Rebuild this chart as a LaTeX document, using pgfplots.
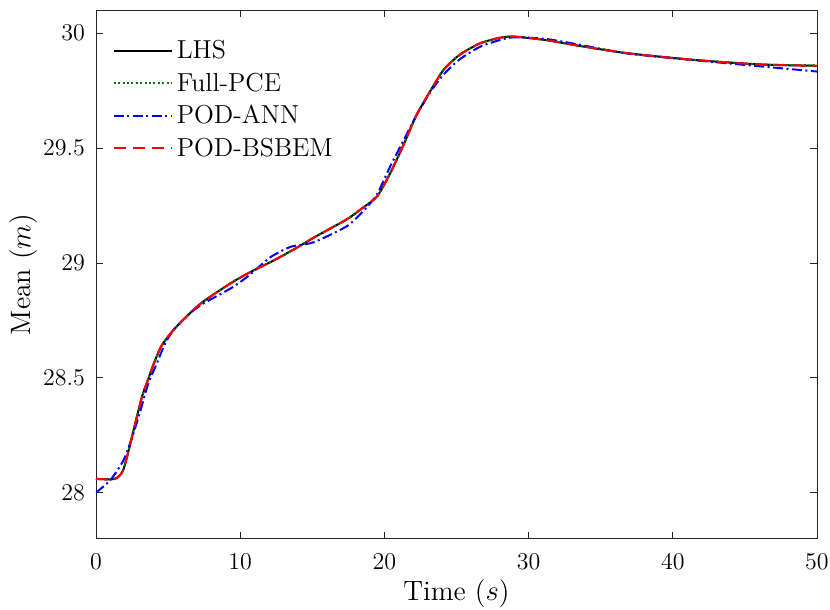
\documentclass[border=0pt]{standalone}
\usepackage{pgfplots}
\pgfplotsset{compat=1.18}
\definecolor{axgray}{rgb}{0.15,0.15,0.15}
\definecolor{pcegreen}{rgb}{0,0.5,0}
\begin{document}
\begin{tikzpicture}
\begin{axis}[
    scale only axis,
    width=360.5pt,
    height=264.2pt,
    xmin=0, xmax=50,
    ymin=27.8, ymax=30.1,
    xtick={0,10,...,50},
    ytick={28,28.5,29,29.5,30},
    tick align=inside,
    major tick length=3.5pt,
    axis line style={axgray, line width=0.4pt},
    tick style={axgray, line width=0.4pt},
    tick label style={font=\fontsize{13}{15}\selectfont},
    xticklabel style={yshift=-4pt},
    yticklabel style={xshift=-2pt},
    label style={font=\fontsize{14}{16}\selectfont},
    xlabel={Time ($s$)},
    ylabel={Mean ($m$)},
    xlabel style={yshift=1.5pt},
    ylabel style={yshift=-4pt},
    legend cell align=left,
    legend style={draw=none, fill=none, at={(0.02,0.985)}, anchor=north west,
        yshift=-8pt, font=\fontsize{13}{15}\selectfont, row sep=1.5pt, inner sep=1pt},
    legend image code/.code={\draw[#1] (0pt,0pt) -- (29pt,0pt);},
    every axis plot/.append style={smooth, tension=0.4, line width=1pt},
]
\addplot[black] coordinates {
(0,28.06) (1.3,28.06) (1.9,28.10) (2.6,28.27) (3.2,28.42) (3.6,28.49)
(4.0,28.56) (4.55,28.64) (5.4,28.71) (6.5,28.78) (7.4,28.83) (9.3,28.91)
(10.7,28.96) (12.3,29.01) (13.9,29.065) (15.1,29.11) (17.4,29.19) (18.5,29.24)
(19.5,29.29) (20.4,29.39) (21.3,29.51) (22.2,29.64) (23.2,29.75) (24.1,29.84)
(25.2,29.905) (26.6,29.955) (28.0,29.98) (29.0,29.985) (31.2,29.97) (33.5,29.945)
(36.8,29.913) (41.4,29.884) (46.0,29.864) (50,29.858)
};
\addlegendentry{LHS}
\addplot[pcegreen, dash pattern=on 1pt off 1.2pt] coordinates {
(0,28.06) (1.3,28.06) (1.9,28.10) (2.6,28.27) (3.2,28.42) (3.6,28.49)
(4.0,28.56) (4.55,28.64) (5.4,28.71) (6.5,28.78) (7.4,28.83) (9.3,28.91)
(10.7,28.96) (12.3,29.01) (13.9,29.065) (15.1,29.11) (17.4,29.19) (18.5,29.24)
(19.5,29.29) (20.4,29.39) (21.3,29.51) (22.2,29.64) (23.2,29.75) (24.1,29.84)
(25.2,29.905) (26.6,29.955) (28.0,29.98) (29.0,29.985) (31.2,29.97) (33.5,29.945)
(36.8,29.913) (41.4,29.884) (46.0,29.864) (50,29.860)
};
\addlegendentry{Full-PCE}
\addplot[blue, dash pattern=on 5pt off 1.75pt on 1pt off 1.75pt] coordinates {
(0,28.0) (1.0,28.055) (1.9,28.14) (2.5,28.24) (3.05,28.35) (3.6,28.47)
(4.2,28.56) (4.8,28.65) (5.4,28.71) (6.5,28.78) (7.5,28.825) (9.5,28.895)
(10.7,28.95) (12.1,29.025) (13.5,29.07) (15.1,29.09) (17.4,29.16) (18.6,29.23)
(19.5,29.30) (20.4,29.42) (21.3,29.53) (22.2,29.64) (23.2,29.745) (24.1,29.82)
(25.2,29.885) (26.6,29.94) (28.0,29.97) (29.0,29.982) (31.2,29.975) (33.5,29.95)
(36.8,29.912) (41.4,29.883) (46.0,29.856) (50,29.833)
};
\addlegendentry{POD-ANN}
\addplot[red, dash pattern=on 6pt off 3.5pt] coordinates {
(0,28.06) (1.3,28.06) (1.9,28.10) (2.6,28.27) (3.2,28.42) (3.6,28.49)
(4.0,28.56) (4.55,28.64) (5.4,28.71) (6.5,28.78) (7.4,28.83) (9.3,28.91)
(10.7,28.96) (12.3,29.01) (13.9,29.065) (15.1,29.11) (17.4,29.19) (18.5,29.24)
(19.5,29.29) (20.4,29.39) (21.3,29.51) (22.2,29.64) (23.2,29.75) (24.1,29.84)
(25.2,29.905) (26.6,29.955) (28.0,29.98) (29.0,29.985) (31.2,29.97) (33.5,29.945)
(36.8,29.913) (41.4,29.884) (46.0,29.864) (50,29.858)
};
\addlegendentry{POD-BSBEM}
\end{axis}
\pgfresetboundingbox
\path (-48pt,-35.7pt) rectangle (367pt,269.3pt);
\end{tikzpicture}
\end{document}
